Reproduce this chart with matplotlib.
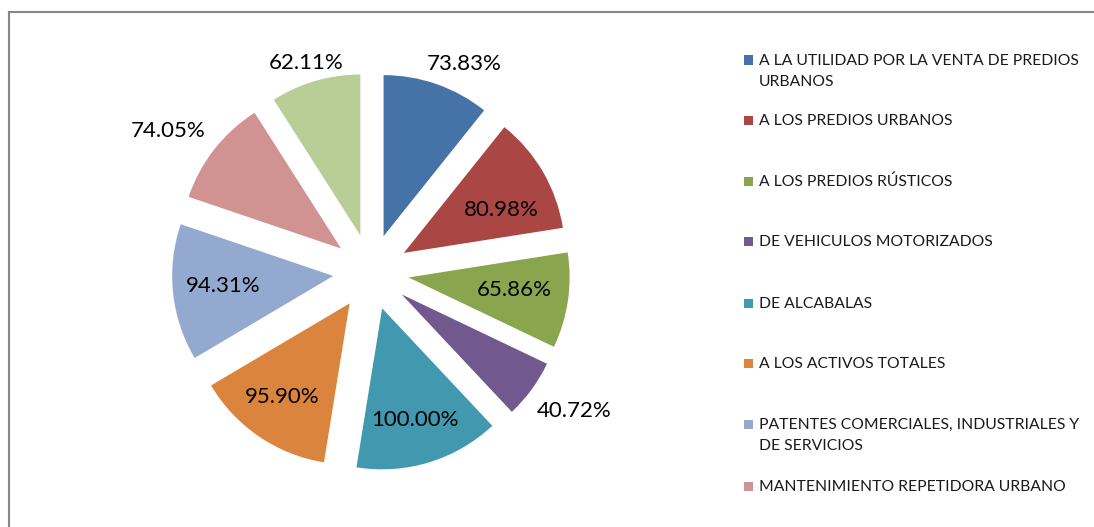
import matplotlib.pyplot as plt
from matplotlib.patches import Rectangle
from matplotlib.lines import Line2D
import numpy as np

# Data
categories = [
    'A LA UTILIDAD POR LA VENTA DE PREDIOS\nURBANOS',
    'A LOS PREDIOS URBANOS',
    'A LOS PREDIOS RÚSTICOS',
    'DE VEHICULOS MOTORIZADOS',
    'DE ALCABALAS',
    'A LOS ACTIVOS TOTALES',
    'PATENTES COMERCIALES, INDUSTRIALES Y\nDE SERVICIOS',
    'MANTENIMIENTO REPETIDORA URBANO',
    'OTROS',
]
values = [73.83, 80.98, 65.86, 40.72, 100.00, 95.90, 94.31, 74.05, 62.11]
label_texts = ['73.83%', '80.98%', '65.86%', '40.72%', '100.00%',
               '95.90%', '94.31%', '74.05%', '62.11%']
colors = ['#4572A7', '#AA4643', '#89A54E', '#71588F', '#4198AF',
          '#DB843D', '#93A9CF', '#D19392', '#B9CD96']
# percent label placement: distance from pie center (radius units)
# and clockwise shift from the wedge's mid angle (degrees)
label_dist = [1.416, 0.895, 0.898, 1.528, 0.959, 0.951, 0.923, 1.532, 1.358]
label_shift = [4.9, 4.7, -1.2, -1.8, 0.4, 1.1, 0.6, -3.3, -1.0]
n_legend = 8  # only the first 8 entries fit in the visible legend

plt.rcParams['font.family'] = ['Lato', 'DejaVu Sans']

W, H = 1094, 527
fig = plt.figure(figsize=(W / 100, H / 100), dpi=100)

# pie axes: center (371, 272) px, radius 161 px
cx, cy, r = 371, 272, 161
half = 250
ax = fig.add_axes([(cx - half) / W, (H - cy - half) / H, 2 * half / W, 2 * half / H])
explode = [0.236] * len(values)
wedges, _ = ax.pie(values, colors=colors, explode=explode, startangle=90,
                   counterclock=False, radius=1.0)
ax.set_xlim(-half / r, half / r)
ax.set_ylim(-half / r, half / r)
ax.set_aspect('equal')
ax.axis('off')

for w, txt, d, s in zip(wedges, label_texts, label_dist, label_shift):
    ang = np.deg2rad((w.theta1 + w.theta2) / 2 - s)
    ax.text(d * np.cos(ang), d * np.sin(ang), txt, ha='center', va='center',
            fontsize=16, color='black')

# legend drawn by hand so that wrapped labels align like the original
leg_y = [60, 120, 181, 241, 303, 363, 424, 486]
for i in range(n_legend):
    y = leg_y[i]
    fig.patches.append(Rectangle((744 / W, (H - y - 4.5) / H), 9 / W, 9 / H,
                                 transform=fig.transFigure, facecolor=colors[i],
                                 edgecolor='none'))
    fig.text(759 / W, (H - y + 6) / H, categories[i], ha='left', va='top',
             fontsize=11.3, color='#1a1a1a', linespacing=1.68,
             transform=fig.transFigure)

# outer frame (partially visible)
fig.add_artist(Line2D([8.5 / W, 1093 / W], [(H - 12) / H, (H - 12) / H],
                      color='#868686', lw=1.5, transform=fig.transFigure))
fig.add_artist(Line2D([8.5 / W, 8.5 / W], [(H - 12) / H, 0],
                      color='#868686', lw=1.5, transform=fig.transFigure))

fig.savefig('out.png', dpi=100)
